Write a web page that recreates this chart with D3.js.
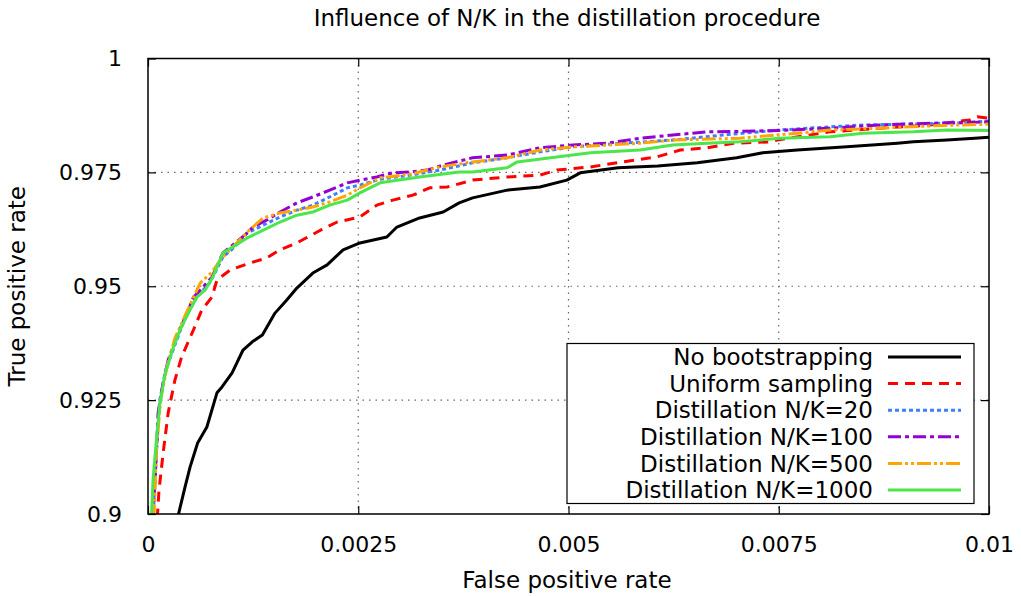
<!DOCTYPE html>
<html lang="en">
<head>
<meta charset="UTF-8">
<title>Influence of N/K in the distillation procedure</title>
<script src="https://cdn.jsdelivr.net/npm/d3@7"></script>
<style>
    body { margin: 0; background: #fff; }
    text { font-family: "DejaVu Sans", sans-serif; font-size: 23px; fill: #000; }
    .grid line { stroke: #666; stroke-width: 1.2; stroke-dasharray: 1.5,5; }
</style>
</head>
<body>
<script>
// series names, in draw order
const seriesNames = ['No bootstrapping', 'Uniform sampling', 'Distillation N/K=20',
    'Distillation N/K=100', 'Distillation N/K=500', 'Distillation N/K=1000'];

// [false positive rate, true positive rate]
const noBootstrapping = [
    [0.00035, 0.899], [0.00044, 0.9059], [0.0005, 0.9103], [0.00059, 0.9156], [0.0007, 0.9191],
    [0.00082, 0.9266], [0.00088, 0.9279], [0.001, 0.931], [0.00113, 0.936], [0.00124, 0.9378],
    [0.00136, 0.9393], [0.00151, 0.9441], [0.00165, 0.947], [0.00177, 0.9496], [0.00196, 0.9529],
    [0.00213, 0.9547], [0.00232, 0.958], [0.00252, 0.9595], [0.00284, 0.9608], [0.00296, 0.963],
    [0.00323, 0.965], [0.00351, 0.9663], [0.0037, 0.9683], [0.00386, 0.9694], [0.00427, 0.9711],
    [0.00466, 0.9718], [0.00498, 0.9733], [0.00514, 0.9749], [0.00559, 0.976], [0.00606, 0.9764],
    [0.00653, 0.9771], [0.007, 0.9782], [0.00731, 0.9793], [0.00772, 0.9799], [0.00831, 0.9806],
    [0.00891, 0.9814], [0.0091, 0.9817], [0.0095, 0.9821], [0.00983, 0.9825], [0.01, 0.9827]
];
const uniformSampling = [
    [0.00011, 0.899], [0.00013, 0.905], [0.00018, 0.9134], [0.00024, 0.9222], [0.00032, 0.9294],
    [0.0004, 0.9345], [0.00054, 0.9404], [0.00064, 0.9448], [0.00076, 0.9476], [0.00082, 0.9514],
    [0.00098, 0.9536], [0.00121, 0.9551], [0.00141, 0.9562], [0.00157, 0.958], [0.00177, 0.9595],
    [0.00205, 0.9623], [0.00225, 0.9641], [0.00252, 0.9652], [0.00272, 0.9678], [0.00291, 0.9689],
    [0.00315, 0.97], [0.00335, 0.9716], [0.00356, 0.9718], [0.00386, 0.9733], [0.00427, 0.974],
    [0.00466, 0.9744], [0.00486, 0.9755], [0.00526, 0.9762], [0.00565, 0.9773], [0.00605, 0.9784],
    [0.00633, 0.9799], [0.00665, 0.9804], [0.00696, 0.9814], [0.0074, 0.9817], [0.00748, 0.9821],
    [0.00811, 0.9839], [0.0087, 0.9847], [0.0093, 0.9854], [0.00977, 0.9865], [0.00986, 0.9872],
    [0.01, 0.9869]
];
const distill20 = [
    [0.00006, 0.899], [0.00011, 0.9163], [0.00014, 0.925], [0.00021, 0.9316], [0.00032, 0.9371],
    [0.00044, 0.943], [0.00058, 0.9476], [0.00074, 0.9509], [0.00089, 0.9564], [0.00103, 0.9586],
    [0.00118, 0.9617], [0.00137, 0.9634], [0.00157, 0.9652], [0.00177, 0.9667], [0.00196, 0.9678],
    [0.00216, 0.9696], [0.00237, 0.9716], [0.00252, 0.9722], [0.00276, 0.9735], [0.00312, 0.9744],
    [0.00347, 0.9755], [0.00386, 0.9771], [0.00427, 0.9782], [0.00466, 0.9795], [0.00505, 0.9806],
    [0.00565, 0.9814], [0.00624, 0.9821], [0.00684, 0.9832], [0.00751, 0.9843], [0.00811, 0.985],
    [0.0085, 0.9854], [0.0091, 0.9856], [0.00969, 0.9859], [0.01, 0.9863]
];
const distill100 = [
    [0.00006, 0.899], [0.0001, 0.914], [0.00012, 0.9222], [0.00017, 0.9279], [0.00024, 0.9338],
    [0.00036, 0.9397], [0.00048, 0.9448], [0.00054, 0.9476], [0.00059, 0.9485], [0.00076, 0.952],
    [0.00089, 0.9573], [0.00101, 0.9591], [0.00118, 0.9617], [0.00125, 0.963], [0.00141, 0.9645],
    [0.00157, 0.9663], [0.00177, 0.9683], [0.00196, 0.9696], [0.00216, 0.9711], [0.00237, 0.9727],
    [0.00252, 0.9733], [0.00272, 0.974], [0.00291, 0.9749], [0.00312, 0.9751], [0.00332, 0.9755],
    [0.00351, 0.9766], [0.00386, 0.9782], [0.00427, 0.9788], [0.00466, 0.9804], [0.00505, 0.981],
    [0.00546, 0.9814], [0.00585, 0.9825], [0.00624, 0.9832], [0.00665, 0.9839], [0.00704, 0.984],
    [0.00751, 0.9842], [0.00811, 0.9847], [0.0087, 0.9854], [0.0093, 0.9858], [0.00969, 0.9859],
    [0.01, 0.9861]
];
const distill500 = [
    [0.00007, 0.899], [0.0001, 0.914], [0.00015, 0.925], [0.00023, 0.9327], [0.00032, 0.9386],
    [0.00046, 0.9443], [0.00062, 0.9507], [0.00076, 0.9531], [0.00089, 0.9564], [0.00118, 0.9619],
    [0.00137, 0.965], [0.00157, 0.9661], [0.00177, 0.9667], [0.00196, 0.9674], [0.00216, 0.9685],
    [0.00237, 0.97], [0.00252, 0.9716], [0.00276, 0.9738], [0.00312, 0.9746], [0.00347, 0.9762],
    [0.00386, 0.9773], [0.00427, 0.9782], [0.00466, 0.9799], [0.00505, 0.9806], [0.00585, 0.9814],
    [0.00624, 0.9821], [0.00704, 0.9825], [0.00772, 0.9836], [0.00811, 0.9843], [0.0087, 0.9847],
    [0.0093, 0.9852], [0.01, 0.9856]
];
const distill1000 = [
    [0.00004, 0.899], [0.00006, 0.9075], [0.0001, 0.9163], [0.00014, 0.924], [0.0002, 0.9305],
    [0.00029, 0.936], [0.00038, 0.9404], [0.00048, 0.9441], [0.00058, 0.9476], [0.00068, 0.9492],
    [0.00077, 0.952], [0.00089, 0.9573], [0.00103, 0.9589], [0.00118, 0.9606], [0.00137, 0.9623],
    [0.00157, 0.9641], [0.00177, 0.9656], [0.00196, 0.9663], [0.00216, 0.9678], [0.00237, 0.9689],
    [0.00252, 0.9705], [0.00276, 0.9727], [0.00323, 0.974], [0.0037, 0.9751], [0.00386, 0.9751],
    [0.00427, 0.976], [0.00439, 0.9773], [0.00486, 0.9784], [0.00526, 0.9793], [0.00585, 0.9799],
    [0.00624, 0.981], [0.00665, 0.9814], [0.00704, 0.9817], [0.00751, 0.9825], [0.00811, 0.9828],
    [0.0085, 0.9836], [0.0091, 0.9839], [0.0095, 0.9843], [0.01, 0.9842]
];

const xTicks = [0, 0.0025, 0.005, 0.0075, 0.01];
const xTickLabels = ['0', '0.0025', '0.005', '0.0075', '0.01'];
const yTicks = [0.9, 0.925, 0.95, 0.975, 1];
const yTickLabels = ['0.9', '0.925', '0.95', '0.975', '1'];

const allSeries = [noBootstrapping, uniformSampling, distill20, distill100, distill500, distill1000];
const colors = ['#000000', '#ff0000', '#3f7fff', '#9400d3', '#ffa500', '#4be64b'];
const dashes = [null, '10,7', '4,3', '13,4,4,4', '14,3,3,3,3,3', null];

const W = 1021, H = 596;
const pLeft = 148, pRight = 989, pTop = 58.5, pBottom = 514;

const svg = d3.select('body').append('svg')
    .attr('width', W)
    .attr('height', H);

const x = d3.scaleLinear().domain([0, 0.01]).range([pLeft, pRight]);
const y = d3.scaleLinear().domain([0.9, 1]).range([pBottom, pTop]);

// grid (inner ticks only)
const grid = svg.append('g').attr('class', 'grid');
grid.selectAll('.gx')
    .data(xTicks.slice(1, -1))
    .enter().append('line')
    .attr('x1', d => x(d)).attr('x2', d => x(d))
    .attr('y1', pTop).attr('y2', pBottom);
grid.selectAll('.gy')
    .data(yTicks.slice(1, -1))
    .enter().append('line')
    .attr('x1', pLeft).attr('x2', pRight)
    .attr('y1', d => y(d)).attr('y2', d => y(d));

// axes: gnuplot style, ticks inward and mirrored
const tick = 8;
svg.append('g')
    .attr('transform', 'translate(0,' + pBottom + ')')
    .call(d3.axisBottom(x).tickValues(xTicks).tickSize(-tick).tickPadding(tick + 14)
        .tickFormat((d, i) => xTickLabels[i]))
    .call(g => g.select('.domain').remove());
svg.append('g')
    .attr('transform', 'translate(0,' + pTop + ')')
    .call(d3.axisTop(x).tickValues(xTicks).tickSize(-tick).tickFormat(''))
    .call(g => g.select('.domain').remove());
svg.append('g')
    .attr('transform', 'translate(' + pLeft + ',0)')
    .call(d3.axisLeft(y).tickValues(yTicks).tickSize(-tick).tickPadding(tick + 18)
        .tickFormat((d, i) => yTickLabels[i]))
    .call(g => g.select('.domain').remove());
svg.append('g')
    .attr('transform', 'translate(' + pRight + ',0)')
    .call(d3.axisRight(y).tickValues(yTicks).tickSize(-tick).tickFormat(''))
    .call(g => g.select('.domain').remove());
svg.selectAll('.tick line').attr('stroke', '#000').attr('stroke-width', 1.2);
svg.selectAll('.tick text')
    .attr('font-size', null).attr('font-family', null)
    .style('font-size', '22px');

// clip the curves to the plot box
svg.append('clipPath').attr('id', 'plot')
    .append('rect')
    .attr('x', pLeft).attr('y', pTop)
    .attr('width', pRight - pLeft).attr('height', pBottom - pTop);

const line = d3.line()
    .x(d => x(d[0]))
    .y(d => y(d[1]));

svg.append('g')
    .attr('clip-path', 'url(#plot)')
    .selectAll('path')
    .data(allSeries)
    .enter().append('path')
    .attr('d', line)
    .attr('fill', 'none')
    .attr('stroke', (d, i) => colors[i])
    .attr('stroke-width', 3)
    .attr('stroke-dasharray', (d, i) => dashes[i])
    .attr('stroke-linejoin', 'round');

// border
svg.append('rect')
    .attr('x', pLeft).attr('y', pTop)
    .attr('width', pRight - pLeft).attr('height', pBottom - pTop)
    .attr('fill', 'none')
    .attr('stroke', '#000')
    .attr('stroke-width', 1.5);

// legend
const lg = svg.append('g');
lg.append('rect')
    .attr('x', 567).attr('y', 343.5)
    .attr('width', 407).attr('height', 160)
    .attr('fill', '#fff')
    .attr('stroke', '#000')
    .attr('stroke-width', 1.2);
const rows = lg.selectAll('.row')
    .data(seriesNames)
    .enter().append('g')
    .attr('transform', (d, i) => 'translate(0,' + (357 + i * 26.6) + ')');
rows.append('text')
    .attr('x', 873)
    .attr('dy', '0.36em')
    .attr('text-anchor', 'end')
    .text(d => d);
rows.append('line')
    .attr('x1', 888).attr('x2', 961)
    .attr('stroke', (d, i) => colors[i])
    .attr('stroke-width', 3)
    .attr('stroke-dasharray', (d, i) => dashes[i]);

// titles
svg.append('text')
    .attr('x', 567).attr('y', 26)
    .attr('text-anchor', 'middle')
    .text('Influence of N/K in the distillation procedure');
svg.append('text')
    .attr('x', 567).attr('y', 588)
    .attr('text-anchor', 'middle')
    .text('False positive rate');
svg.append('text')
    .attr('transform', 'translate(25,' + ((pTop + pBottom) / 2) + ') rotate(-90)')
    .attr('text-anchor', 'middle')
    .text('True positive rate');
</script>
</body>
</html>
